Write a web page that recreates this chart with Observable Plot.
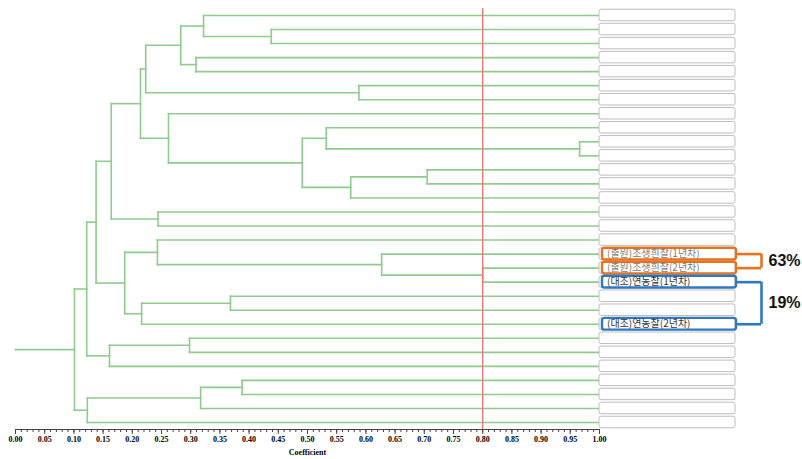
<!DOCTYPE html>
<html>
<head>
<meta charset="utf-8">
<script src="https://cdn.jsdelivr.net/npm/d3@7"></script>
<script src="https://cdn.jsdelivr.net/npm/@observablehq/plot@0.6"></script>
<style>
  html, body { margin: 0; padding: 0; background: white; }
  #chart svg { display: block; }
</style>
</head>
<body>
<div id="chart"></div>
<script>
// 30 leaves, top to bottom (index 0..29). Most labels are masked in the source.
const leafLabels = [
  "", "", "", "", "", "", "", "", "", "",
  "", "", "", "", "", "", "",
  "(출원)조생흰찰(1년차)", "(출원)조생흰찰(2년차)", "(대조)연농찰(1년차)",
  "", "", "(대조)연농찰(2년차)",
  "", "", "", "", "", "", ""
];
// merges: [childA, childB, coefficient]; numbers = leaves, "nK" = merge K
const merges = [
  [1, 2, 0.438],        // n0
  [0, "n0", 0.322],     // n1
  [3, 4, 0.309],        // n2
  ["n1", "n2", 0.283],  // n3
  [5, 6, 0.588],        // n4
  ["n3", "n4", 0.223],  // n5
  [9, 10, 0.966],       // n6
  [8, "n6", 0.532],     // n7
  [11, 12, 0.705],      // n8
  ["n8", 13, 0.574],    // n9
  ["n7", "n9", 0.491],  // n10
  [7, "n10", 0.262],    // n11
  ["n5", "n11", 0.214], // n12
  [14, 15, 0.244],      // n13
  ["n12", "n13", 0.164],// n14
  [18, 19, 0.80],       // n15
  [17, "n15", 0.627],   // n16
  [16, "n16", 0.243],   // n17
  [20, 21, 0.368],      // n18
  ["n18", 22, 0.216],   // n19
  ["n17", "n19", 0.187],// n20
  ["n14", "n20", 0.138],// n21
  [23, 24, 0.298],      // n22
  ["n22", 25, 0.161],   // n23
  ["n21", "n23", 0.122],// n24
  [26, 27, 0.388],      // n25
  ["n25", 28, 0.317],   // n26
  ["n26", 29, 0.123],   // n27
  ["n24", "n27", 0.101] // n28 (root)
];
const cutoff = 0.80;
const majorTicks = d3.range(0, 21).map(i => i / 20);
const minorTicks = d3.range(0, 101).map(i => i / 100);
const groups = [
  {a: 17, b: 18, color: "#e8731e", text: "63%"},
  {a: 19, b: 22, color: "#2f78c4", text: "19%"}
];

// build dendrogram segments from merge table
const nodes = {};
const get = c => typeof c === "number" ? {x: 1, y: c} : nodes[c];
const segs = [];
merges.forEach(([A, B, h], k) => {
  const a = get(A), b = get(B);
  segs.push({x1: h, y1: a.y, x2: h, y2: b.y});
  segs.push({x1: a.x, y1: a.y, x2: h, y2: a.y});
  segs.push({x1: b.x, y1: b.y, x2: h, y2: b.y});
  nodes["n" + k] = {x: h, y: (a.y + b.y) / 2};
});
const root = nodes["n" + (merges.length - 1)];
segs.push({x1: 0, y1: root.y, x2: root.x, y2: root.y});

const leaves = leafLabels.map((t, i) => ({i, t}));
const hiBoxes = groups.flatMap(g => [{i: g.a, color: g.color}, {i: g.b, color: g.color}]);

const chart = Plot.plot({
  width: 802,
  height: 459,
  marginLeft: 15,
  marginRight: 203,
  marginTop: 0,
  marginBottom: 30,
  style: {background: "white", overflow: "visible"},
  x: {domain: [0, 1]},
  y: {domain: [0, 29], range: [15, 422], axis: null},
  marks: [
    Plot.link(segs, {x1: "x1", y1: "y1", x2: "x2", y2: "y2", stroke: "#8fcb8f", strokeWidth: 1.6, strokeLinecap: "square"}),
    Plot.ruleX([cutoff], {y1: -0.5, y2: 29.5, stroke: "#f07272", strokeWidth: 1.3}),
    Plot.rect(leaves, {x1: 1, x2: 1, y1: d => d.i - 0.41, y2: d => d.i + 0.41, insetRight: -136, fill: "white", stroke: "#bdbdbd", strokeWidth: 1, rx: 2}),
    Plot.rect(hiBoxes, {x1: 1, x2: 1, y1: d => d.i - 0.42, y2: d => d.i + 0.42, insetLeft: 3, insetRight: -137, fill: "none", stroke: d => d.color, strokeWidth: 2.4, rx: 2.5}),
    Plot.text(leaves.filter(d => d.t), {x: 1, y: "i", text: "t", dx: 7.5, textAnchor: "start", fontSize: 10, fontFamily: "Noto Sans CJK KR", fill: d => d.t.includes("연농찰") ? "#333" : "#7a7a7a", fontWeight: d => d.t.includes("연농찰") ? "bold" : "normal"}),
    // brackets
    Plot.ruleY(hiBoxes, {y: "i", x1: 1, x2: 1, insetLeft: 138, insetRight: -162, stroke: d => d.color, strokeWidth: 2.6}),
    Plot.ruleX(groups, {x: 1, dx: 162, y1: "a", y2: "b", stroke: "color", strokeWidth: 2.6}),
    Plot.text(groups, {x: 1, y: d => (d.a + d.b) / 2, text: "text", dx: 169 , textAnchor: "start", fontSize: 16, fontWeight: "bold", fontFamily: "Liberation Sans, Arial, sans-serif", fill: "#111"}),
    // axis
    Plot.frame({anchor: "bottom", stroke: "#444"}),
    Plot.axisX(minorTicks, {tickSize: 3, tickFormat: () => "", label: null, stroke: "#444"}),
    Plot.axisX(majorTicks, {tickSize: 5, tickPadding: 2, tickFormat: d => d.toFixed(2), stroke: "#444", fill: "#000",
      fontSize: 8, fontWeight: "bold", fontFamily: "Liberation Serif, Times New Roman, serif",
      label: "Coefficient", labelAnchor: "center", labelArrow: "none", labelOffset: 25})
  ]
});
document.getElementById("chart").appendChild(chart);
</script>
</body>
</html>
